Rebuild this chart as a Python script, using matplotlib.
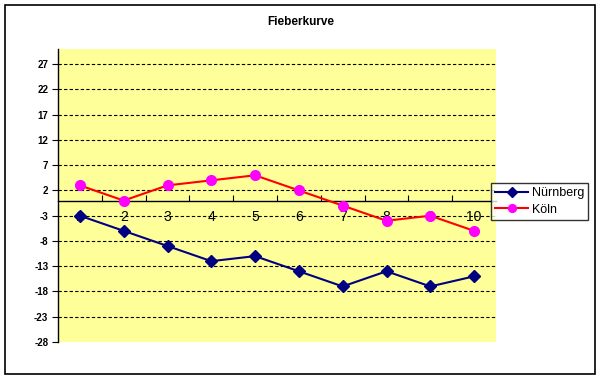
import matplotlib
matplotlib.use("Agg")
import matplotlib.pyplot as plt
from matplotlib.patches import Rectangle

plt.rcParams['font.family'] = ['Liberation Sans', 'DejaVu Sans']

title = "Fieberkurve"
categories = [1, 2, 3, 4, 5, 6, 7, 8, 9, 10]
nuernberg = [-3, -6, -9, -12, -11, -14, -17, -14, -17, -15]
koeln = [3, 0, 3, 4, 5, 2, -1, -4, -3, -6]
yticks = [-28, -23, -18, -13, -8, -3, 2, 7, 12, 17, 22, 27]
series_names = ["Nürnberg", "Köln"]

fig = plt.figure(figsize=(6.01, 3.79), dpi=100)
fig.patch.set_facecolor('white')
fig.patches.append(Rectangle((5/601, 1-374/379), 590/601, 369/379, transform=fig.transFigure,
                             fill=False, edgecolor='black', linewidth=1.2, zorder=0))

ax = fig.add_axes([58/601, 1-342/379, 438/601, 293/379])
ax.set_facecolor('#FFFF99')
ax.set_axisbelow(True)

ax.set_xlim(0.5, 10.5)
ax.set_ylim(-28, 30)

for v in yticks[1:]:
    ax.axhline(v, color='black', linestyle=(0, (3, 2)), linewidth=0.8, zorder=1)

ax.plot(categories, nuernberg, color='#000080', linewidth=1.5, marker='D', markersize=6,
        markerfacecolor='#000080', markeredgecolor='#000080', label=series_names[0], zorder=3)
ax.plot(categories, koeln, color='#FF0000', linewidth=1.5, marker='o', markersize=7,
        markerfacecolor='#FF00FF', markeredgecolor='#FF00FF', label=series_names[1], zorder=3)

ax.set_yticks(yticks)
ax.set_yticklabels([str(v) for v in yticks], fontsize=7, fontweight='bold')
ax.tick_params(axis='y', direction='out', length=4, width=0.8, pad=3, colors='black')

ax.set_xticks(categories)
ax.set_xticklabels([str(c) for c in categories], fontsize=7.5, color='#222222')
ax.set_xticks([c + 0.5 for c in categories[:-1]], minor=True)
ax.tick_params(axis='x', which='major', length=0, pad=7)
ax.tick_params(axis='x', which='minor', direction='in', length=4, width=0.8)

for s in ['top', 'right']:
    ax.spines[s].set_visible(False)
ax.spines['bottom'].set_position(('data', 0))
ax.spines['bottom'].set_linewidth(1.0)
ax.spines['left'].set_linewidth(1.0)

fig.text(301/601, 1-22/379, title, ha='center', va='center', fontsize=8.5, fontweight='bold')

leg = fig.legend(loc='upper left', bbox_to_anchor=(491/601, 1-183/379), fontsize=9,
                 frameon=True, fancybox=False, handlelength=2.6, borderpad=0.35,
                 labelspacing=0.35, handletextpad=0.3, markerscale=0.8, borderaxespad=0)
leg.get_frame().set_edgecolor('black')
leg.get_frame().set_linewidth(1.0)

fig.savefig('out.png', dpi=100)
